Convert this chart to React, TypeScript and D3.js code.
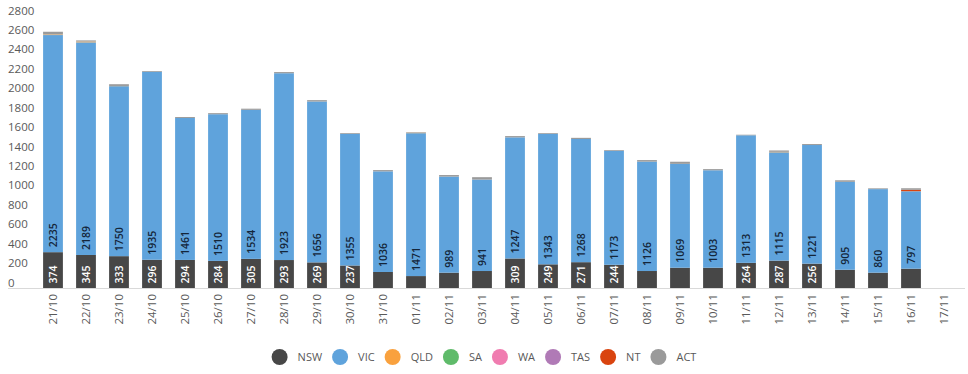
import React, { useRef, useEffect } from 'react';
import * as d3 from 'd3';

// Daily new cases by state, 21/10 – 17/11
const DATES = [
  '21/10', '22/10', '23/10', '24/10', '25/10', '26/10', '27/10', '28/10', '29/10', '30/10',
  '31/10', '01/11', '02/11', '03/11', '04/11', '05/11', '06/11', '07/11', '08/11', '09/11',
  '10/11', '11/11', '12/11', '13/11', '14/11', '15/11', '16/11', '17/11',
];
const NSW = [374, 345, 333, 296, 294, 284, 305, 293, 269, 237, 170, 128, 163, 180, 309, 249, 271, 244, 180, 214, 214, 264, 287, 256, 193, 163, 204, 0];
const VIC = [2235, 2189, 1750, 1935, 1461, 1510, 1534, 1923, 1656, 1355, 1036, 1471, 989, 941, 1247, 1343, 1268, 1173, 1126, 1069, 1003, 1313, 1115, 1221, 905, 860, 797, 0];
const QLD = [6, 8, 2, 0, 0, 0, 0, 0, 0, 0, 0, 4, 0, 0, 0, 0, 0, 0, 0, 0, 0, 0, 5, 0, 0, 0, 1, 0];
const SA = [0, 0, 0, 0, 0, 0, 0, 0, 0, 0, 0, 0, 0, 0, 0, 0, 0, 0, 0, 0, 0, 0, 0, 0, 0, 0, 0, 0];
const WA = [0, 0, 0, 0, 0, 0, 0, 0, 0, 0, 0, 0, 0, 0, 0, 0, 0, 0, 0, 0, 0, 0, 0, 0, 0, 0, 0, 0];
const TAS = [0, 0, 0, 0, 0, 0, 0, 0, 0, 0, 0, 0, 0, 0, 0, 0, 0, 0, 0, 0, 0, 0, 0, 0, 0, 0, 0, 0];
const NT = [0, 0, 0, 0, 0, 0, 0, 0, 0, 0, 0, 0, 0, 0, 0, 0, 0, 0, 0, 0, 0, 0, 0, 0, 0, 0, 14, 0];
const ACT = [28, 12, 18, 8, 10, 11, 12, 12, 14, 8, 13, 6, 16, 25, 13, 8, 12, 8, 16, 22, 12, 6, 14, 10, 16, 8, 16, 0];

const STATES = ['NSW', 'VIC', 'QLD', 'SA', 'WA', 'TAS', 'NT', 'ACT'];
const SERIES = [NSW, VIC, QLD, SA, WA, TAS, NT, ACT];
const COLORS = ['#474747', '#5fa3dc', '#f9a13e', '#5fbb6a', '#f07cb0', '#b07ab6', '#d9440f', '#9a9a9a'];
const Y_TICKS = [0, 200, 400, 600, 800, 1000, 1200, 1400, 1600, 1800, 2000, 2200, 2400, 2600, 2800];

const W = 968;
const H = 374;
const FONT = '"Open Sans", "Segoe UI", sans-serif';

const App: React.FC = () => {
  const ref = useRef<SVGSVGElement>(null);

  useEffect(() => {
    if (!ref.current) return;
    const svg = d3.select(ref.current);
    svg.selectAll('*').remove();

    const rows = DATES.map((d, i) => {
      const row: Record<string, any> = { date: d };
      STATES.forEach((s, k) => (row[s] = SERIES[k][i]));
      return row;
    });
    const stacked = d3.stack<Record<string, any>>().keys(STATES)(rows);

    const x = d3.scaleBand<string>().domain(DATES).range([36.5, 960.5]).paddingInner(0.4).paddingOuter(0.2);
    const y = d3.scaleLinear().domain([0, 2800]).range([288.5, 16.5]);

    // bars
    stacked.forEach((s, k) => {
      svg
        .append('g')
        .selectAll('rect')
        .data(s)
        .enter()
        .append('rect')
        .attr('x', (d) => x(d.data.date)!)
        .attr('width', x.bandwidth())
        .attr('y', (d) => y(d[1]))
        .attr('height', (d) => Math.max(0, y(d[0]) - y(d[1])))
        .attr('fill', COLORS[k]);
    });

    // inside-base labels for NSW and VIC
    [0, 1].forEach((k) => {
      stacked[k].forEach((d) => {
        const v = d[1] - d[0];
        const hgt = y(d[0]) - y(d[1]);
        if (v <= 0 || hgt < 22) return;
        const cx = x(d.data.date)! + x.bandwidth() / 2;
        const by = y(d[0]) - 5;
        svg
          .append('text')
          .attr('transform', `translate(${cx},${by}) rotate(-90)`)
          .attr('dy', '0.35em')
          .attr('text-anchor', 'start')
          .text(v)
          .style('font-family', FONT)
          .style('font-size', '10.5px')
          .style('font-weight', 600)
          .style('fill', k === 0 ? '#ffffff' : '#14263a');
      });
    });

    // axis line
    svg
      .append('line')
      .attr('x1', 8)
      .attr('x2', 965)
      .attr('y1', 288.5)
      .attr('y2', 288.5)
      .attr('stroke', '#d9d9d9')
      .attr('stroke-width', 1);

    // y tick labels (left aligned)
    svg
      .append('g')
      .selectAll('text')
      .data(Y_TICKS)
      .enter()
      .append('text')
      .attr('x', 8)
      .attr('y', (d) => y(d) - 6)
      .attr('dy', '0.35em')
      .text((d) => d)
      .style('font-family', FONT)
      .style('font-size', '11.5px')
      .style('fill', '#595959');

    // x tick labels
    svg
      .append('g')
      .selectAll('text')
      .data(DATES)
      .enter()
      .append('text')
      .attr('transform', (d) => `translate(${x(d)! + x.bandwidth() / 2},294) rotate(-90)`)
      .attr('dy', '0.35em')
      .attr('text-anchor', 'end')
      .text((d) => d)
      .style('font-family', FONT)
      .style('font-size', '11.5px')
      .style('fill', '#595959');

    // legend
    const legend = svg.append('g');
    let lx = 0;
    STATES.forEach((s, k) => {
      const g = legend.append('g').attr('transform', `translate(${lx},0)`);
      g.append('circle').attr('cx', 8).attr('cy', 0).attr('r', 8).attr('fill', COLORS[k]);
      const t = g
        .append('text')
        .attr('x', 26)
        .attr('dy', '0.35em')
        .text(s)
        .style('font-family', FONT)
        .style('font-size', '11px')
        .style('fill', '#595959');
      const tw = (t.node() as SVGTextElement).getComputedTextLength();
      lx += 26 + tw + (k < STATES.length - 1 ? 10 : 0);
    });
    legend.attr('transform', `translate(${(W - lx) / 2},357)`);
  }, []);

  return (
    <div style={{ position: 'absolute', left: 0, top: 0, width: W, height: H, background: '#fff' }}>
      <svg ref={ref} width={W} height={H} />
    </div>
  );
};

export default App;
